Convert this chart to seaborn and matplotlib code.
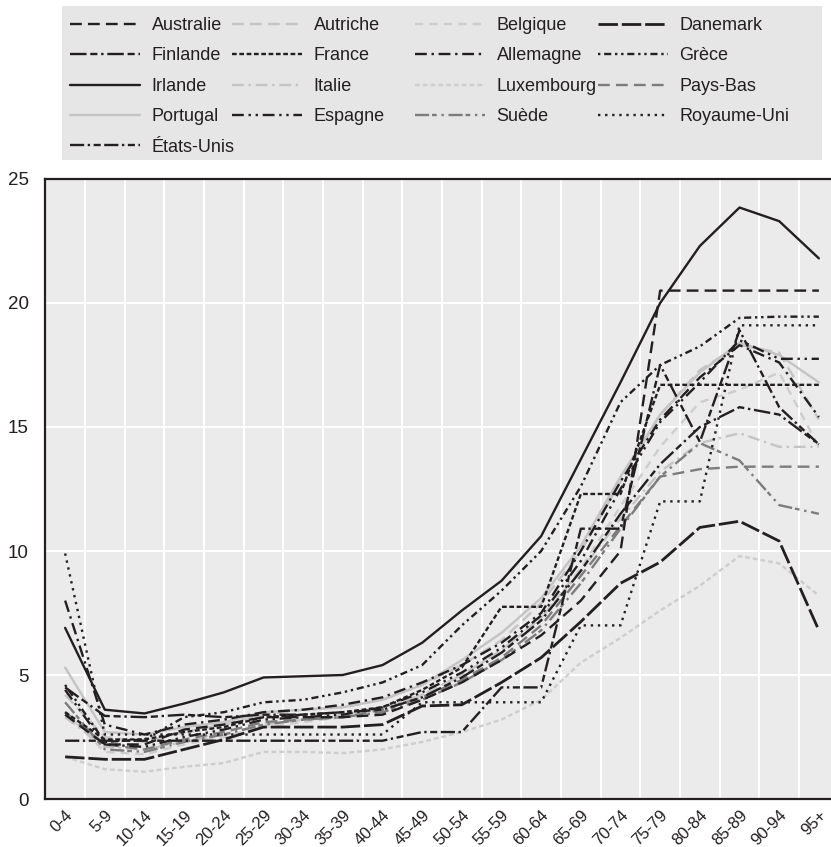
import matplotlib
matplotlib.use("Agg")
import matplotlib.pyplot as plt
import seaborn as sns
import numpy as np
import pandas as pd
from matplotlib.lines import Line2D
from matplotlib.patches import Rectangle

ages = ['0-4', '5-9', '10-14', '15-19', '20-24', '25-29', '30-34', '35-39', '40-44',
        '45-49', '50-54', '55-59', '60-64', '65-69', '70-74', '75-79', '80-84',
        '85-89', '90-94', '95+']

australie = [3.4, 2.2, 2.2, 2.8, 3.0, 3.3, 3.3, 3.3, 3.4, 4.0, 4.7, 5.6, 6.6, 8.0, 10.0, 20.5, 20.5, 20.5, 20.5, 20.5]
autriche = [4.2, 2.5, 2.3, 2.7, 3.0, 3.4, 3.6, 3.7, 4.0, 4.6, 5.4, 6.4, 7.9, 10.0, 12.8, 15.5, 17.3, 18.3, 18.0, 15.3]
belgique = [3.5, 1.9, 1.8, 2.2, 2.5, 2.9, 3.1, 3.3, 3.6, 4.2, 5.0, 6.0, 7.3, 9.3, 11.8, 14.2, 16.0, 16.5, 17.2, 14.2]
danemark = [1.7, 1.6, 1.6, 2.0, 2.4, 2.9, 2.9, 2.9, 3.0, 3.75, 3.8, 4.7, 5.7, 7.15, 8.7, 9.55, 10.95, 11.2, 10.4, 6.8]
finlande = [4.5, 3.35, 3.3, 3.4, 3.3, 3.4, 3.4, 3.5, 3.6, 4.1, 4.9, 5.9, 7.2, 9.2, 11.5, 13.5, 15.0, 15.8, 15.5, 14.3]
france = [3.5, 2.4, 2.4, 2.7, 2.9, 3.3, 3.4, 3.5, 3.7, 4.4, 5.3, 7.75, 7.75, 12.3, 12.3, 16.7, 16.7, 16.7, 16.7, 16.7]
allemagne = [8.0, 3.0, 2.6, 3.0, 3.2, 3.5, 3.6, 3.8, 4.1, 4.7, 5.4, 6.3, 7.5, 10.0, 12.8, 15.3, 17.0, 18.3, 17.6, 15.4]
grece = [4.6, 2.3, 2.4, 3.3, 3.5, 3.9, 4.0, 4.3, 4.7, 5.4, 7.0, 8.4, 10.0, 12.6, 16.0, 17.5, 18.25, 19.4, 19.45, 19.45]
irlande = [6.9, 3.6, 3.45, 3.85, 4.3, 4.9, 4.95, 5.0, 5.4, 6.3, 7.6, 8.8, 10.6, 13.7, 16.8, 20.0, 22.3, 23.85, 23.3, 21.8]
italie = [3.3, 2.1, 2.0, 2.3, 2.6, 3.0, 3.2, 3.4, 3.7, 4.2, 5.0, 6.0, 7.3, 9.2, 11.3, 13.2, 14.35, 14.75, 14.2, 14.2]
luxembourg = [1.7, 1.2, 1.1, 1.3, 1.45, 1.9, 1.9, 1.85, 2.0, 2.3, 2.7, 3.2, 4.0, 5.5, 6.5, 7.6, 8.6, 9.8, 9.5, 8.2]
pays_bas = [3.5, 2.2, 2.0, 2.4, 2.7, 3.1, 3.2, 3.3, 3.6, 4.1, 4.8, 5.7, 7.0, 9.0, 11.0, 13.0, 13.3, 13.4, 13.4, 13.4]
portugal = [5.3, 2.7, 2.6, 2.9, 3.1, 3.5, 3.6, 3.7, 4.0, 4.6, 5.6, 6.7, 8.1, 10.2, 13.0, 15.5, 17.2, 18.4, 17.9, 16.8]
espagne = [4.4, 2.2, 2.1, 2.5, 2.8, 3.2, 3.3, 3.4, 3.7, 4.3, 5.1, 6.1, 7.4, 9.6, 12.5, 15.2, 16.8, 18.5, 17.75, 17.75]
suede = [3.9, 2.0, 1.9, 2.3, 2.6, 3.0, 3.2, 3.3, 3.5, 4.0, 4.7, 5.6, 6.8, 8.7, 10.9, 13.0, 14.35, 13.65, 11.85, 11.5]
royaume_uni = [9.9, 2.6, 2.6, 2.6, 2.6, 2.6, 2.6, 2.6, 2.6, 3.9, 3.9, 3.9, 3.9, 7.0, 7.0, 12.0, 12.0, 19.1, 19.1, 19.1]
etats_unis = [2.35, 2.35, 2.35, 2.35, 2.35, 2.35, 2.35, 2.35, 2.35, 2.7, 2.7, 4.5, 4.5, 10.9, 10.9, 17.5, 14.4, 18.9, 15.8, 14.3]

countries = ['Australie', 'Autriche', 'Belgique', 'Danemark', 'Finlande', 'France',
             'Allemagne', 'Grèce', 'Irlande', 'Italie', 'Luxembourg', 'Pays-Bas',
             'Portugal', 'Espagne', 'Suède', 'Royaume-Uni', 'États-Unis']
series = [australie, autriche, belgique, danemark, finlande, france, allemagne, grece,
          irlande, italie, luxembourg, pays_bas, portugal, espagne, suede, royaume_uni,
          etats_unis]

DARK = '#231f20'
LIGHT = '#c4c4c4'
LIGHTER = '#cdcdcd'
MID = '#7c7c7c'
styles = {
    'Australie': (DARK, (0, (5, 2.6)), 1.7, 5),
    'Autriche': (LIGHT, (0, (5, 2.6)), 1.7, 2),
    'Belgique': (LIGHTER, (0, (3.5, 2.6)), 1.7, 2),
    'Danemark': (DARK, (0, (7, 1.4)), 2.0, 5),
    'Finlande': (DARK, (0, (7, 1.6, 3, 1.6, 1, 1.6)), 1.7, 5),
    'France': (DARK, (0, (2, 1.1)), 1.7, 5),
    'Allemagne': (DARK, (0, (5, 2, 1, 2)), 1.7, 5),
    'Grèce': (DARK, (0, (1, 1.6, 3, 1.6, 1, 1.6)), 1.7, 5),
    'Irlande': (DARK, '-', 1.7, 6),
    'Italie': (LIGHT, (0, (5, 2, 1, 2)), 1.7, 2),
    'Luxembourg': (LIGHTER, (0, (2, 1.3)), 1.7, 2),
    'Pays-Bas': (MID, (0, (5, 2.6)), 1.7, 3),
    'Portugal': (LIGHT, '-', 1.7, 2),
    'Espagne': (DARK, (0, (5, 2, 1, 2, 1, 2)), 1.7, 5),
    'Suède': (MID, (0, (6, 1.2, 2, 2, 1, 2)), 1.7, 3),
    'Royaume-Uni': (DARK, (0, (1, 2)), 1.7, 5),
    'États-Unis': (DARK, (0, (6, 1.5, 1, 1.5, 3, 1.5)), 1.7, 5),
}

sns.set_theme(style='white')
plt.rcParams['font.family'] = ['Liberation Sans', 'DejaVu Sans']

W, H = 831, 847
fig = plt.figure(figsize=(W / 100, H / 100), dpi=100)
fig.patch.set_facecolor('white')

left_px, right_px, top_px, bot_px = 45.3, 838.7, 179, 799
ax = fig.add_axes([left_px / W, 1 - bot_px / H, (right_px - left_px) / W, (bot_px - top_px) / H])
ax.set_facecolor('#ebebeb')

pos = np.arange(len(ages))
handles = {}
for name, vals in zip(countries, series):
    color, ls, lw, z = styles[name]
    df = pd.DataFrame({'pos': pos, 'val': vals})
    sns.lineplot(data=df, x='pos', y='val', ax=ax, color=color, linewidth=lw,
                 linestyle=ls, zorder=z)
    handles[name] = Line2D([], [], color=color, linestyle=ls, linewidth=lw)

ax.set_xlim(-0.5, 19.5)
ax.set_ylim(0, 25)
ax.set_xlabel('')
ax.set_ylabel('')

ax.set_xticks(pos)
ax.set_xticklabels(ages, rotation=45, ha='right', rotation_mode='anchor', fontsize=12, color=DARK)
ax.set_xticks(np.arange(0.5, 19.5, 1), minor=True)
ax.tick_params(axis='x', which='major', length=0, pad=6)
ax.tick_params(axis='x', which='minor', direction='in', length=5, color='#777777', width=1)
ax.set_yticks([0, 5, 10, 15, 20, 25])
ax.set_yticklabels(['0', '5', '10', '15', '20', '25'], fontsize=13.5, color=DARK)
ax.tick_params(axis='y', direction='in', length=8, color=DARK, width=1, pad=12)
for x in np.arange(0.5, 19.5, 1):
    ax.axvline(x, color='white', linewidth=1.5, zorder=1)
for y in [5, 10, 15, 20]:
    ax.axhline(y, color='white', linewidth=1.5, zorder=1)

for side in ['left', 'bottom', 'top']:
    ax.spines[side].set_color(DARK)
    ax.spines[side].set_linewidth(1.6)
ax.spines['right'].set_visible(False)

fig.patches.append(Rectangle((62 / W, 1 - 160 / H), (822 - 62) / W, (160 - 6) / H,
                             transform=fig.transFigure, facecolor='#e6e6e6',
                             edgecolor='none', zorder=0))

columns = [
    ['Australie', 'Finlande', 'Irlande', 'Portugal', 'États-Unis'],
    ['Autriche', 'France', 'Italie', 'Espagne'],
    ['Belgique', 'Allemagne', 'Luxembourg', 'Suède'],
    ['Danemark', 'Grèce', 'Pays-Bas', 'Royaume-Uni'],
]
col_x = [70, 232, 415, 598]
for cx, names in zip(col_x, columns):
    leg = fig.legend([handles[n] for n in names], names, loc='upper left',
                     bbox_to_anchor=(cx / W, 1 - 17 / H), frameon=False,
                     fontsize=13, handlelength=3.9, handletextpad=0.62,
                     labelspacing=0.745, borderpad=0, borderaxespad=0)
    for t in leg.get_texts():
        t.set_color(DARK)

fig.savefig('out.png', dpi=100)
